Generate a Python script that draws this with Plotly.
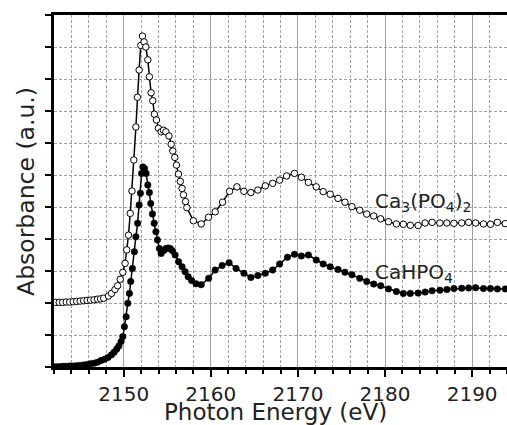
import plotly.graph_objects as go

# Ca3(PO4)2 (open circles)
e_open = [2142.2, 2142.6, 2143.0, 2143.4, 2143.8, 2144.2, 2144.6, 2145.0, 2145.4, 2145.8,
          2146.2, 2146.6, 2147.0, 2147.35, 2147.7, 2148.25, 2148.6, 2149.0, 2149.3, 2149.6,
          2149.9, 2150.16, 2150.35, 2150.55, 2150.75, 2150.95, 2151.16, 2151.4, 2151.57, 2151.77,
          2151.96, 2152.15, 2152.34, 2152.54, 2152.77, 2152.95, 2153.14, 2153.34, 2153.52, 2153.76,
          2153.99, 2154.3, 2154.56, 2154.84, 2155.2, 2155.45, 2155.64, 2155.87, 2156.06, 2156.29,
          2156.5, 2156.7, 2156.86, 2157.1, 2157.25, 2158.0, 2158.9, 2159.74, 2160.5, 2161.35,
          2162.15, 2163.0, 2163.8, 2164.6, 2165.4, 2166.25, 2167.1, 2167.9, 2168.7, 2169.6,
          2170.4, 2171.2, 2172.1, 2172.9, 2173.7, 2174.6, 2175.4, 2176.2, 2177.1, 2177.9,
          2178.7, 2179.5, 2180.4, 2181.3, 2182.1, 2182.9, 2183.8, 2184.6, 2185.4, 2186.3,
          2187.1, 2187.9, 2188.8, 2189.6, 2190.4, 2191.3, 2192.1, 2192.9, 2193.8]
a_open = [2.02, 2.02, 2.02, 2.03, 2.03, 2.04, 2.05, 2.06, 2.07, 2.08,
          2.09, 2.1, 2.12, 2.13, 2.15, 2.22, 2.3, 2.42, 2.54, 2.74,
          2.96, 3.24, 3.66, 4.12, 4.8, 5.5, 6.47, 7.5, 8.43, 9.28,
          10.05, 10.34, 10.16, 10.0, 9.6, 9.07, 8.57, 8.32, 7.9, 7.72,
          7.46, 7.35, 7.4, 7.35, 7.22, 6.96, 6.75, 6.55, 6.31, 6.03,
          5.8, 5.58, 5.38, 5.17, 4.98, 4.57, 4.47, 4.68, 4.85, 5.15,
          5.49, 5.63, 5.49, 5.45, 5.53, 5.66, 5.74, 5.84, 5.97, 6.05,
          5.93, 5.77, 5.63, 5.48, 5.4, 5.27, 5.15, 5.01, 4.9, 4.78,
          4.72, 4.63, 4.54, 4.47, 4.46, 4.43, 4.42, 4.5, 4.52, 4.5,
          4.5, 4.49, 4.5, 4.52, 4.5, 4.47, 4.46, 4.52, 4.48]

# CaHPO4 (filled circles)
e_fill = [2142.2, 2142.6, 2143.0, 2143.4, 2143.8, 2144.2, 2144.6, 2145.0, 2145.4, 2145.8,
          2146.2, 2146.6, 2147.0, 2147.4, 2147.8, 2148.2, 2148.6, 2148.9, 2149.2, 2149.45,
          2149.7, 2149.9, 2150.08, 2150.28, 2150.47, 2150.66, 2150.8, 2151.0, 2151.23, 2151.4,
          2151.6, 2151.77, 2151.92, 2152.05, 2152.2, 2152.4, 2152.57, 2152.77, 2152.95, 2153.1,
          2153.3, 2153.5, 2153.7, 2153.87, 2154.1, 2154.3, 2154.6, 2154.85, 2155.1, 2155.35,
          2155.6, 2155.9, 2156.3, 2156.7, 2157.05, 2157.4, 2157.8, 2158.3, 2158.9, 2159.75,
          2160.5, 2161.3, 2162.1, 2162.9, 2163.8, 2164.6, 2165.4, 2166.25, 2167.1, 2167.9,
          2168.8, 2169.6, 2170.4, 2171.2, 2172.1, 2172.9, 2173.7, 2174.6, 2175.4, 2176.2,
          2177.1, 2177.9, 2178.7, 2179.5, 2180.4, 2181.3, 2182.1, 2182.9, 2183.8, 2184.6,
          2185.4, 2186.3, 2187.1, 2187.9, 2188.8, 2189.6, 2190.4, 2191.3, 2192.1, 2192.9, 2193.8]
a_fill = [0.01, 0.01, 0.02, 0.02, 0.03, 0.03, 0.04, 0.05, 0.06, 0.08,
          0.1, 0.12, 0.15, 0.2, 0.24, 0.3, 0.38, 0.46, 0.56, 0.66,
          0.8, 0.95, 1.26, 1.57, 1.99, 2.3, 2.67, 3.08, 3.6, 4.07,
          4.49, 5.06, 5.43, 6.05, 6.25, 6.2, 6.05, 5.69, 5.45, 5.11,
          4.78, 4.49, 4.23, 3.97, 3.7, 3.55, 3.64, 3.7, 3.72, 3.7,
          3.63, 3.5, 3.29, 3.13, 2.98, 2.82, 2.7, 2.6, 2.57, 2.77,
          3.03, 3.17, 3.26, 3.08, 2.93, 2.8, 2.86, 2.93, 3.03, 3.22,
          3.43, 3.52, 3.47, 3.5, 3.34, 3.22, 3.13, 3.05, 2.96, 2.88,
          2.77, 2.67, 2.59, 2.54, 2.44, 2.36, 2.3, 2.3, 2.31, 2.34,
          2.38, 2.4, 2.42, 2.45, 2.46, 2.47, 2.48, 2.45, 2.45, 2.44, 2.44]

x_ticks = [2150, 2160, 2170, 2180, 2190]
label_open = "Ca<sub>3</sub>(PO<sub>4</sub>)<sub>2</sub>"
label_fill = "CaHPO<sub>4</sub>"
x_title = "Photon Energy (eV)"
y_title = "Absorbance (a.u.)"

FONT = "DejaVu Sans"
TXT = "#222222"

fig = go.Figure()
fig.add_trace(go.Scatter(x=e_open, y=a_open, mode="lines+markers",
                         line=dict(color="black", width=1.5),
                         marker=dict(symbol="circle", size=6.5, color="white",
                                     line=dict(color="black", width=1)),
                         showlegend=False))
fig.add_trace(go.Scatter(x=e_fill, y=a_fill, mode="lines+markers",
                         line=dict(color="black", width=1.5),
                         marker=dict(symbol="circle", size=6.5, color="black",
                                     line=dict(color="black", width=0.5)),
                         showlegend=False))

fig.add_annotation(x=2178.6, y=5.15, text=label_open, showarrow=False,
                   xanchor="left", yanchor="middle",
                   font=dict(family=FONT, size=20, color=TXT))
fig.add_annotation(x=2178.6, y=2.95, text=label_fill, showarrow=False,
                   xanchor="left", yanchor="middle",
                   font=dict(family=FONT, size=20, color=TXT))

# axis titles as annotations (paper coordinates)
fig.add_annotation(xref="paper", yref="paper", x=0.489, y=-0.129, text=x_title,
                   showarrow=False, xanchor="center", yanchor="middle",
                   font=dict(family=FONT, size=23, color=TXT))
fig.add_annotation(xref="paper", yref="paper", x=-0.062, y=0.5, text=y_title,
                   showarrow=False, xanchor="center", yanchor="middle", textangle=-90,
                   font=dict(family=FONT, size=23.5, color=TXT))

fig.update_xaxes(range=[2142, 2194], tickvals=x_ticks, ticktext=[str(v) for v in x_ticks],
                 ticks="outside", ticklen=7, tickwidth=2, tickcolor="black",
                 showline=True, linecolor="black", linewidth=3, mirror=True,
                 showgrid=True, gridcolor="#a0a0a0", gridwidth=1,
                 minor=dict(dtick=2, tick0=2142, ticks="outside", ticklen=4, tickwidth=2,
                            tickcolor="black", showgrid=True, gridcolor="#a0a0a0",
                            gridwidth=1, griddash="3px,2px"),
                 zeroline=False, automargin=False,
                 tickfont=dict(family=FONT, size=20, color=TXT))
fig.update_yaxes(range=[0, 11], dtick=1, tick0=0, showticklabels=False,
                 ticks="outside", ticklen=6, tickwidth=2, tickcolor="black",
                 showline=True, linecolor="black", linewidth=3,
                 showgrid=True, gridcolor="#a0a0a0", gridwidth=1, griddash="3px,2px",
                 zeroline=False, automargin=False)

fig.update_layout(width=507, height=425, margin=dict(l=54, r=0, t=15, b=58),
                  plot_bgcolor="white", paper_bgcolor="white")
fig.write_html("out.html")
